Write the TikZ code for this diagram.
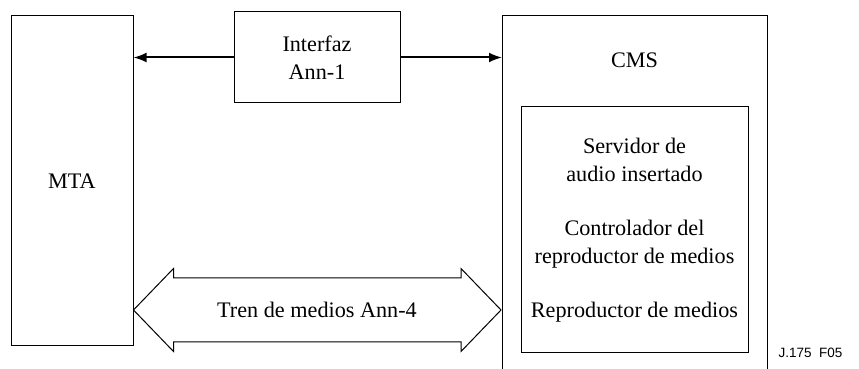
\documentclass[tikz,border=0pt]{standalone}
\usepackage{fontspec}
\setmainfont{Liberation Serif}
\newfontfamily\figfont{Liberation Sans}
\usetikzlibrary{arrows.meta,calc}
\begin{document}
\begin{tikzpicture}[x=1pt,y=1pt,
    box/.style={draw,line width=1pt,align=center,inner sep=0pt,
      font=\fontsize{22.2}{28}\selectfont},
    link/.style={line width=2pt,-{Latex[length=13pt,width=10pt]}}]
  \pgfmathsetmacro{\shaft}{32}
  \pgfmathsetmacro{\head}{41.5}
  \pgfmathsetmacro{\hlen}{40}
  \useasboundingbox (0,0) rectangle (859,369);
  \node[box,minimum width=122,minimum height=330] (mta) at (72,188) {MTA};
  \node[box,minimum width=166,minimum height=91] (ann1) at (317,311.5) {Interfaz\\Ann-1};
  % open CMS frame
  \coordinate (cmsnw) at (502,353);
  \coordinate (cmsne) at (767,353);
  \draw[line width=1pt] (502,0) -- (cmsnw) -- (cmsne) -- (767,0);
  \node[font=\fontsize{22.2}{28}\selectfont] (cms) at (634.5,309) {CMS};
  \node[box,minimum width=227,minimum height=246] (inner) at (634.5,139)
    {Servidor de\\audio insertado\\[26pt]Controlador del\\reproductor de medios\\[26pt]Reproductor de medios};
  \draw[link] (ann1.west) -- (ann1.west -| mta.east);
  \draw[link] (ann1.east) -- (ann1.east -| cmsnw);
  % media stream double arrow
  \node[font=\fontsize{22.2}{28}\selectfont] (tren) at (317,59) {Tren de medios Ann-4};
  \coordinate (lt) at (tren -| mta.east);
  \coordinate (rt) at ($(tren -| cmsnw)+(-1,0)$);
  \draw[line width=1pt] (lt) -- ++(\hlen,\head) -- ++(0,\shaft-\head)
    -- ($(rt)+(-\hlen,\shaft)$) -- ++(0,\head-\shaft) -- (rt)
    -- ++(-\hlen,-\head) -- ++(0,\head-\shaft)
    -- ($(lt)+(\hlen,-\shaft)$) -- ++(0,\shaft-\head) -- cycle;
  \node[anchor=west,font=\figfont\fontsize{13.5}{16}\selectfont] (fig) at (775,16) {J.175\ \ F05};
\end{tikzpicture}
\end{document}
